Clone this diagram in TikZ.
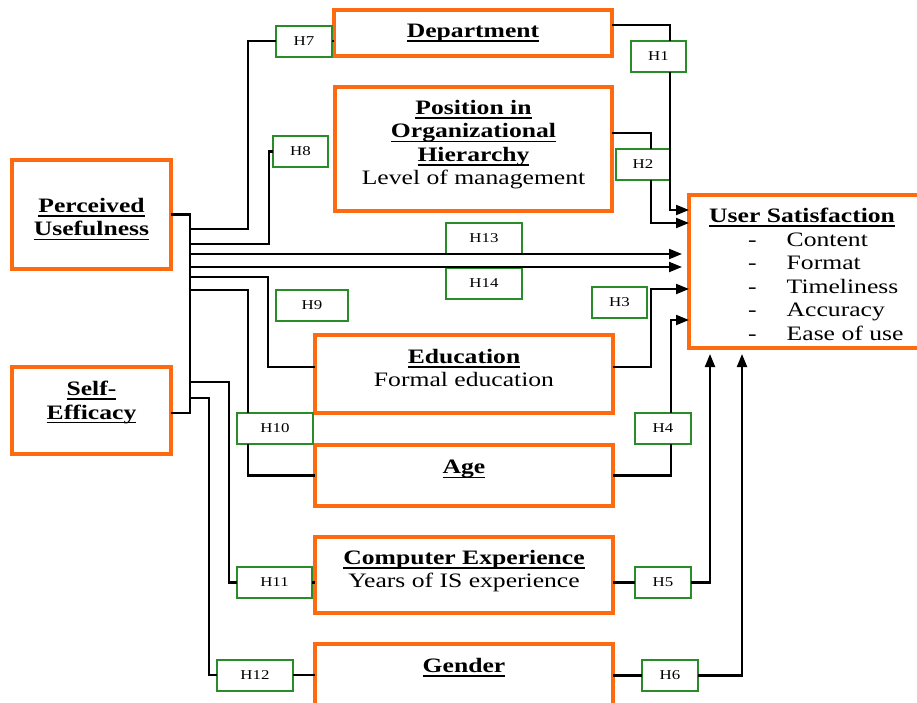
\documentclass[tikz,border=0pt]{standalone}
\usepackage{fontspec}
\setmainfont[FakeStretch=1.25]{Liberation Serif}
\usetikzlibrary{arrows.meta,positioning}
\definecolor{varorange}{RGB}{253,106,16}
\definecolor{hypgreen}{RGB}{40,140,40}
\tikzset{var/.style={draw=varorange,line width=3.3pt,inner sep=0pt,outer sep=0pt},
  vtext/.style={align=center,inner sep=0pt,font=\fontsize{20.5}{23.5}\selectfont},
  hyp/.style={draw=hypgreen,line width=2pt,minimum height=31pt,inner sep=0pt,outer sep=0pt,font=\fontsize{13.5}{16}\selectfont},
  link/.style={line width=2.1pt},
  arr/.style={link,-{Triangle[length=13pt,width=10pt]}}}
\newsavebox{\ttlbox}
\newcommand{\ttl}[1]{\sbox{\ttlbox}{\textbf{#1}}\rlap{\usebox{\ttlbox}}\rule[-4.2pt]{\wd\ttlbox}{1.4pt}}
\newcommand{\usitem}[1]{\hspace*{39pt}-\hspace*{30pt}#1}

\begin{document}
\begin{tikzpicture}[x=1pt,y=-1pt]
\useasboundingbox (0,0) rectangle (917,702);
\clip (0,0) rectangle (917,702);
% constructs
\node[var,minimum width=159pt,minimum height=109pt] (pu) at (91.5,214.5) {};
\node[var,minimum width=159pt,minimum height=87pt] (se) at (91.5,410.5) {};
\node[var,minimum width=278pt,minimum height=46pt] (dep) at (473,33) {};
\node[var,minimum width=277pt,minimum height=124pt] (pos) at (473.5,149) {};
\node[var,minimum width=298pt,minimum height=78pt] (edu) at (464,374) {};
\node[var,minimum width=298pt,minimum height=61pt] (age) at (464,475.5) {};
\node[var,minimum width=298pt,minimum height=76pt] (ce) at (464,575) {};
\node[var,minimum width=298pt,minimum height=66pt] (gen) at (464,677) {};
\node[var,minimum width=236pt,minimum height=153pt] (us) at (807,271.5) {};
\node[vtext,below=38pt of pu.north] (pu-t) {\ttl{Perceived}\\\ttl{Usefulness}};
\node[vtext,below=14pt of se.north] (se-t) {\ttl{Self-}\\\ttl{Efficacy}};
\node[vtext,below=14pt of dep.north] (dep-t) {\ttl{Department}};
\node[vtext,below=13pt of pos.north] (pos-t) {\ttl{Position in}\\\ttl{Organizational}\\\ttl{Hierarchy}\\Level of management};
\node[vtext,below=14pt of edu.north] (edu-t) {\ttl{Education}\\Formal education};
\node[vtext,below=15pt of age.north] (age-t) {\ttl{Age}};
\node[vtext,below=13pt of ce.north] (ce-t) {\ttl{Computer Experience}\\Years of IS experience};
\node[vtext,below=14pt of gen.north] (gen-t) {\ttl{Gender}};
\node[vtext,align=left,below right=13pt and 20pt of us.north west] (us-t)
  {\ttl{User Satisfaction}\\\usitem{Content}\\\usitem{Format}\\\usitem{Timeliness}\\\usitem{Accuracy}\\\usitem{Ease of use}};
% hypotheses
\foreach \n/\x/\y/\w in {1/658.5/56.5/55pt, 2/643/164.5/54pt, 3/619.5/302/55pt, 4/663/428.5/56pt,
  5/663/582.5/56pt, 6/670/675.5/56pt, 7/304/41/56pt, 8/300.5/151.5/55pt, 9/312/305.5/72pt,
  10/275/428.5/76pt, 11/274.5/582.5/75pt, 12/255/675/76pt, 13/484/238.5/76pt, 14/484/283.5/76pt}
  \node[hyp,minimum width=\w] (h\n) at (\x,\y) {H\n};
% trunk from the two left constructs
\foreach \n/\y in {7/229,8/244,13/254,14/267,9/277,10/290,11/382,12/398}
  \coordinate (b\n) at (190,\y);
\draw[link] (pu.east) -- ++(19,0) |- ([yshift=-2.5pt]se.east);
\draw[link] (b7) -- ++(58,0) |- (h7.west);
\draw[link] (h7.east) -- (h7.east -| dep.west);
\draw[link] (b8) -- ++(79,0) |- (h8.west);
\draw[arr,shorten >=7pt] (b13) -- (b13 -| us.west);
\draw[arr,shorten >=7pt] (b14) -- (b14 -| us.west);
\draw[link] (b9) -- ++(78,0) |- ([yshift=7pt]edu.west);
\draw[link] (b10) -| ([xshift=-27pt]h10.north);
\draw[link] ([xshift=-27pt]h10.south) |- (age.west);
\draw[link] (b11) -- ++(39,0) |- (h11.west);
\draw[link] (h11.east) -- (h11.east -| ce.west);
\draw[link] (b12) -- ++(19,0) |- (h12.west);
\draw[link] (h12.east) -- (h12.east -| gen.west);
% into user satisfaction
\draw[link] ([yshift=8pt]dep.east) -| ([xshift=11.5pt]h1.north);
\draw[arr] ([xshift=11.5pt]h1.south) |- ([yshift=61.5pt]us.west);
\draw[link] ([yshift=16pt]pos.east) -| ([xshift=8pt]h2.north);
\draw[arr] ([xshift=8pt]h2.south) |- ([yshift=48.5pt]us.west);
\draw[arr] ([yshift=7pt]edu.east) -- ++(38,0) |- ([yshift=-17.5pt]us.west);
\draw[link] (age.east) -| ([xshift=8pt]h4.south);
\draw[arr] ([xshift=8pt]h4.north) |- ([yshift=-48.5pt]us.west);
\draw[link] (h5.west -| ce.east) -- (h5.west);
\draw[arr,shorten >=6pt] (h5.east) -| ([xshift=-97pt]us.south);
\draw[link] (h6.west -| gen.east) -- (h6.west);
\draw[arr,shorten >=6pt] (h6.east) -| ([xshift=-65pt]us.south);
\end{tikzpicture}
\end{document}
